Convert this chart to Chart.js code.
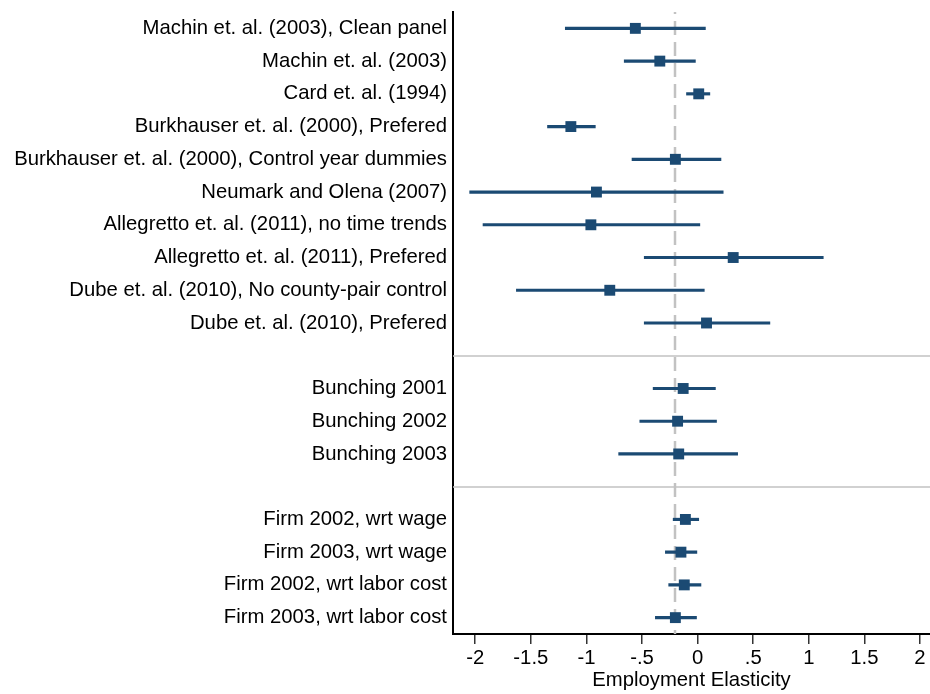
<!DOCTYPE html>
<html>
<head>
<meta charset="utf-8">
<script src="https://cdn.jsdelivr.net/npm/chart.js@4.4.1/dist/chart.umd.min.js"></script>
<style>
  html, body { margin:0; padding:0; background:#fff; }
  #wrap { width:930px; height:694px; }
</style>
</head>
<body>
<div id="wrap"><canvas id="c" width="930" height="694"></canvas></div>
<script>
// estimates with 95% intervals, one row per study (gaps at 11 and 15 split the groups)
const studies = [
  'Machin et. al. (2003), Clean panel',
  'Machin et. al. (2003)',
  'Card et. al. (1994)',
  'Burkhauser et. al. (2000), Prefered',
  'Burkhauser et. al. (2000), Control year dummies',
  'Neumark and Olena (2007)',
  'Allegretto et. al. (2011), no time trends',
  'Allegretto et. al. (2011), Prefered',
  'Dube et. al. (2010), No county-pair control',
  'Dube et. al. (2010), Prefered',
  'Bunching 2001',
  'Bunching 2002',
  'Bunching 2003',
  'Firm 2002, wrt wage',
  'Firm 2003, wrt wage',
  'Firm 2002, wrt labor cost',
  'Firm 2003, wrt labor cost'
];
const rowPos   = [1, 2, 3, 4, 5, 6, 7, 8, 9, 10, 12, 13, 14, 16, 17, 18, 19];
const estimate = [-0.56, -0.34, 0.01, -1.14, -0.20, -0.91, -0.96, 0.32, -0.79, 0.08, -0.13, -0.18, -0.17, -0.11, -0.15, -0.12, -0.20];
const ciLow    = [-1.19, -0.66, -0.10, -1.35, -0.59, -2.05, -1.93, -0.48, -1.63, -0.48, -0.40, -0.52, -0.71, -0.22, -0.29, -0.26, -0.38];
const ciHigh   = [0.07, -0.02, 0.11, -0.92, 0.21, 0.23, 0.02, 1.13, 0.06, 0.65, 0.16, 0.17, 0.36, 0.01, 0.00, 0.03, -0.01];
const xTicks = [-2, -1.5, -1, -0.5, 0, 0.5, 1, 1.5, 2];
const groupBreaks = [11, 15];
const refLine = -0.2;

const BLUE = '#1b4a73';
const FONT = '"Liberation Sans", Arial, Helvetica, sans-serif';
const labelAt = {};
rowPos.forEach((p, i) => { labelAt[p] = studies[i]; });
const fmtTick = (v) => v === 0 ? '0' : String(v).replace('0.', '.');

// group separators and the dashed reference line, placed through the scales
const guides = {
  id: 'guides',
  beforeDatasetsDraw(chart) {
    const { ctx, chartArea: a, scales: { x, y } } = chart;
    ctx.save();
    ctx.strokeStyle = '#c2c2c2';
    ctx.lineWidth = 1.5;
    groupBreaks.forEach(v => {
      const py = Math.round(y.getPixelForValue(v));
      ctx.beginPath(); ctx.moveTo(a.left, py); ctx.lineTo(a.right, py); ctx.stroke();
    });
    const px = Math.round(x.getPixelForValue(refLine));
    ctx.strokeStyle = '#c2c2c2';
    ctx.lineWidth = 2.5;
    ctx.setLineDash([14, 7]);
    ctx.lineDashOffset = 12;
    ctx.beginPath(); ctx.moveTo(px, a.top); ctx.lineTo(px, a.bottom); ctx.stroke();
    ctx.restore();
  }
};

new Chart(document.getElementById('c'), {
  type: 'bar',
  data: {
    datasets: [
      {
        type: 'scatter',
        data: rowPos.map((p, i) => ({ x: estimate[i], y: p })),
        pointStyle: 'rect',
        pointRadius: 7.7,
        backgroundColor: BLUE,
        borderColor: BLUE,
        borderWidth: 0,
        order: 0
      },
      {
        type: 'bar',
        data: rowPos.map((p, i) => ({ x: [ciLow[i], ciHigh[i]], y: p })),
        backgroundColor: BLUE,
        borderWidth: 0,
        barThickness: 2.5,
        order: 1
      }
    ]
  },
  options: {
    indexAxis: 'y',
    responsive: false,
    animation: false,
    devicePixelRatio: 1,
    layout: { autoPadding: false, padding: { top: 12, right: 0, left: 0, bottom: 0 } },
    plugins: { legend: { display: false }, tooltip: { enabled: false } },
    scales: {
      x: {
        type: 'linear',
        position: 'bottom',
        min: -2.2,
        max: 2.09,
        offset: false,
        afterBuildTicks: (s) => { s.ticks = xTicks.map(v => ({ value: v })); },
        afterFit: (s) => { s.height = 60; s.paddingLeft = 0; s.paddingRight = 0; },
        border: { display: true, color: '#000', width: 2 },
        grid: { drawOnChartArea: false, drawTicks: true, tickLength: 10, color: '#333', lineWidth: 1.5 },
        ticks: { color: '#000', font: { family: FONT, size: 20.3 }, padding: 2, maxRotation: 0, callback: fmtTick },
        title: { display: true, text: 'Employment Elasticity', color: '#000', font: { family: FONT, size: 20.3 }, padding: { top: 0, bottom: 1 } }
      },
      y: {
        type: 'linear',
        position: 'left',
        reverse: true,
        min: 0.5,
        max: 19.5,
        offset: false,
        afterBuildTicks: (s) => { s.ticks = rowPos.map(v => ({ value: v })); },
        afterFit: (s) => { s.width = 453; s.paddingTop = 0; s.paddingBottom = 0; },
        border: { display: true, color: '#000', width: 2 },
        grid: { display: false, drawTicks: false },
        ticks: { color: '#000', font: { family: FONT, size: 20.3 }, padding: 6, autoSkip: false, callback: (v) => labelAt[v] || '' }
      }
    }
  },
  plugins: [guides]
});
</script>
</body>
</html>
